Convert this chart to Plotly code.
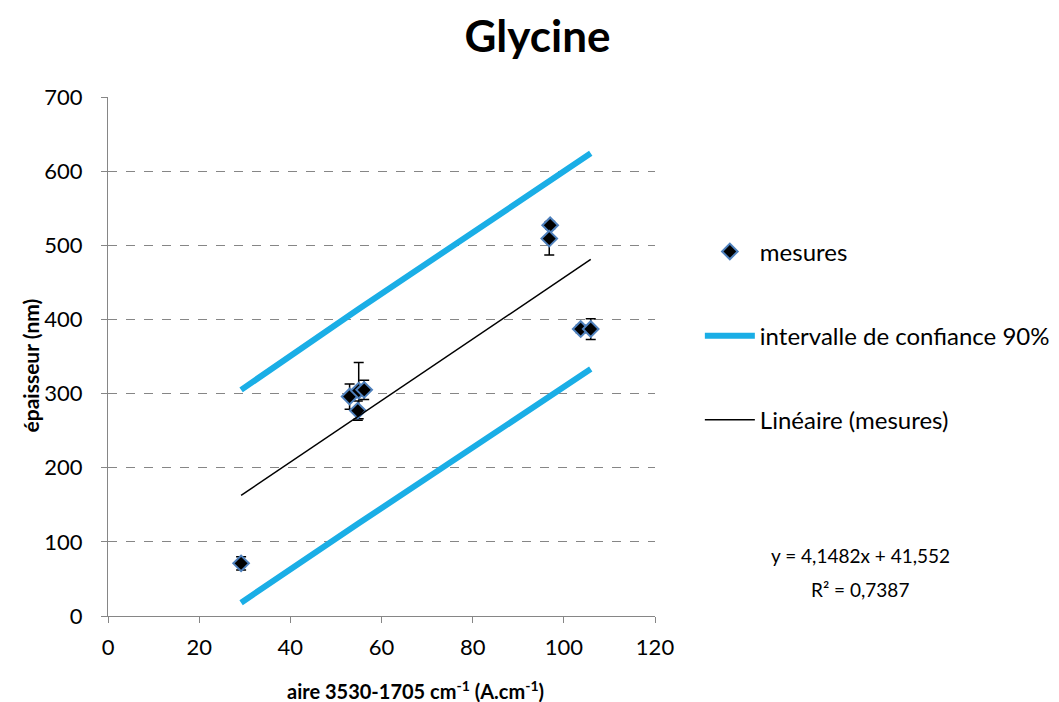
import plotly.graph_objects as go

# measured points
meas_x = [29.2, 53.0, 55.0, 56.2, 54.8, 97.0, 96.8, 103.7, 105.9]
meas_y = [71, 296, 304, 305, 277, 527, 509, 387, 387]
meas_err = [9, 17, 38, 13, 13, 5, 22, 5, 14]

# 90% confidence interval lines
ci_x = [29.2, 55.0, 105.9]
ci_upper = [305, 414, 624]
ci_lower = [18, 125, 333]

# linear trend (from equation shown)
slope = 4.1482
intercept = 41.552
r2 = 0.7387
trend_x = [min(meas_x), max(meas_x)]
trend_y = [slope * v + intercept for v in trend_x]

FONT = "Lato"
blue = "#1AAEE6"

fig = go.Figure()
fig.add_trace(go.Scatter(
    x=meas_x, y=meas_y, mode="markers", name="mesures", legendgroup="a",
    marker=dict(symbol="diamond", size=12, color="black", line=dict(color="#4F81BD", width=2)),
    error_y=dict(type="data", array=meas_err, visible=True, color="black", thickness=1.5, width=5),
))
fig.add_trace(go.Scatter(
    x=ci_x, y=ci_upper, mode="lines", name="intervalle de confiance 90%", legendgroup="b",
    line=dict(color=blue, width=6),
))
fig.add_trace(go.Scatter(
    x=ci_x, y=ci_lower, mode="lines", name="intervalle de confiance 90%", legendgroup="b",
    showlegend=False, line=dict(color=blue, width=6),
))
fig.add_trace(go.Scatter(
    x=trend_x, y=trend_y, mode="lines", name="Linéaire (mesures)", legendgroup="c",
    line=dict(color="black", width=1.5),
))

fmt = lambda v: str(v).replace('.', ',')
fig.add_annotation(
    xref="paper", yref="paper", x=1.375, y=0.1175, xanchor="center", yanchor="middle",
    text=f"y = {fmt(slope)}x + {fmt(intercept)}",
    showarrow=False, font=dict(family=FONT, size=19, color="black"),
)
fig.add_annotation(
    xref="paper", yref="paper", x=1.375, y=0.052, xanchor="center", yanchor="middle",
    text=f"R² = {fmt(r2)}",
    showarrow=False, font=dict(family=FONT, size=19, color="black"),
)
# axis titles
fig.add_annotation(
    xref="paper", yref="paper", x=0.5618, y=-0.1426, xanchor="center", yanchor="middle",
    text="<b>aire 3530-1705 cm<sup>-1</sup> (A.cm<sup>-1</sup>)</b>",
    showarrow=False, font=dict(family=FONT, size=20, color="black"),
)
fig.add_annotation(
    xref="paper", yref="paper", x=-0.1418, y=0.4836, xanchor="center", yanchor="middle",
    text="<b>épaisseur (nm)</b>", textangle=-90,
    showarrow=False, font=dict(family=FONT, size=21, color="black"),
)

fig.update_layout(
    width=1059, height=702,
    paper_bgcolor="white", plot_bgcolor="white",
    margin=dict(l=100, r=409, t=89, b=94),
    title=dict(text="<b>Glycine</b>", x=0.5, xanchor="center", y=1 - 29 / 702, yanchor="middle",
               font=dict(family=FONT, size=44, color="black")),
    font=dict(family=FONT, size=18, color="black"),
    legend=dict(x=1.082, y=0.745, xanchor="left", yanchor="top", traceorder="grouped",
                tracegroupgap=50, itemwidth=50, font=dict(family=FONT, size=24, color="black"),
                bgcolor="rgba(0,0,0,0)"),
    showlegend=True,
)
fig.update_xaxes(
    range=[0, 120], dtick=20, showgrid=False, zeroline=False,
    showline=True, linecolor="#868686", linewidth=1, ticks="outside", ticklen=6, tickcolor="#868686",
    tickfont=dict(family=FONT, size=22, color="black"), ticklabelstandoff=6,
)
fig.update_yaxes(
    range=[0, 700], dtick=100, showgrid=True, gridcolor="#868686", griddash="dash", gridwidth=1,
    zeroline=False, showline=True, linecolor="#868686", linewidth=1, ticks="outside", ticklen=6,
    tickcolor="#868686", tickfont=dict(family=FONT, size=22, color="black"), ticklabelstandoff=14,
)

fig.write_html("out.html")
